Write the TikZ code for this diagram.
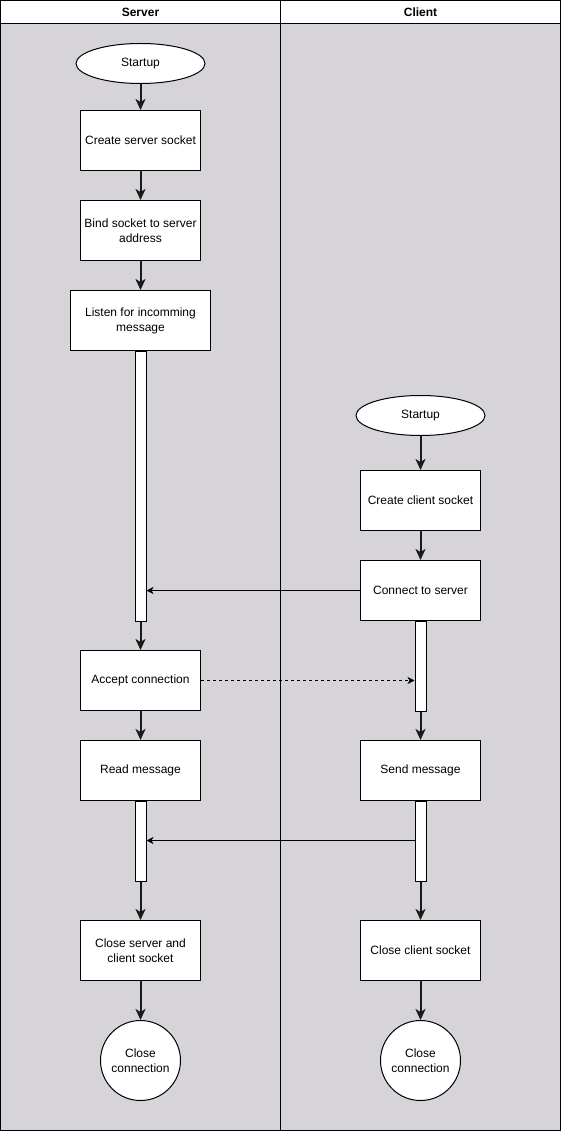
\documentclass[tikz,border=0pt]{standalone}
\usepackage{fontspec}
\setmainfont{Liberation Sans}
\usetikzlibrary{arrows.meta,shapes.geometric}
\definecolor{lanefill}{RGB}{214,212,216}
\begin{document}
\begin{tikzpicture}[x=1pt,y=-1pt,
  every node/.style={font=\fontsize{12}{15}\selectfont, inner sep=0pt},
  stepbox/.style={draw, fill=white, line width=1pt, minimum width=120pt, minimum height=60pt, align=center},
  widebox/.style={stepbox, minimum width=140pt},
  startnode/.style={ellipse, draw, fill=white, line width=1pt, minimum width=129pt, minimum height=40pt},
  endnode/.style={circle, draw, fill=white, line width=1pt, minimum size=80pt, align=center},
  bar/.style={draw, fill=white, line width=1pt, minimum width=11pt, anchor=north},
  flow/.style={line width=2pt, draw=black!90, -{Stealth[length=11pt,width=10pt,inset=3pt]}},
  msg/.style={line width=1pt, -{Stealth[length=7pt,width=7pt,inset=2pt]}},
  reply/.style={msg, dashed, dash pattern=on 3pt off 3pt}]
\useasboundingbox (0,0) rectangle (561,1131);
% lanes and header
\fill[lanefill] (0.5,23.5) rectangle (560.5,1130.5);
\fill[white] (0.5,0.5) rectangle (560.5,23.5);
\draw[line width=1pt] (0.5,0.5) rectangle (560.5,1130.5);
\draw[line width=1pt] (0.5,23.5) -- (560.5,23.5);
\draw[line width=1pt] (280.5,0.5) -- (280.5,1130.5);
\node[font=\fontsize{12}{15}\selectfont\bfseries] (hserver) at (140.5,12) {Server};
\node[font=\fontsize{12}{15}\selectfont\bfseries] (hclient) at (420.5,12) {Client};

% server lane
\node[startnode] (sstart) at (140.5,63.5) {Startup};
\node[stepbox] (screate) at (140.5,140.5) {Create server socket};
\node[stepbox] (sbind) at (140.5,230.5) {Bind socket to server\\address};
\node[widebox] (slisten) at (140.5,320.5) {Listen for incomming\\message};
\node[bar, minimum height=270pt] (sbar1) at (140.5,350.5) {};
\node[stepbox] (saccept) at (140.5,680.5) {Accept connection};
\node[stepbox] (sread) at (140.5,770.5) {Read message};
\node[bar, minimum height=80pt] (sbar2) at (140.5,800.5) {};
\node[stepbox] (sclose) at (140.5,950.5) {Close server and\\client socket};
\node[endnode] (send) at (140.5,1060.5) {Close\\connection};

% client lane
\node[startnode] (cstart) at (420.5,415.5) {Startup};
\node[stepbox] (ccreate) at (420.5,500.5) {Create client socket};
\node[stepbox] (cconnect) at (420.5,590.5) {Connect to server};
\node[bar, minimum height=90pt] (cbar1) at (420.5,620.5) {};
\node[stepbox] (csend) at (420.5,770.5) {Send message};
\node[bar, minimum height=80pt] (cbar2) at (420.5,800.5) {};
\node[stepbox] (cclose) at (420.5,950.5) {Close client socket};
\node[endnode] (cend) at (420.5,1060.5) {Close\\connection};

% control flow
\draw[flow] (sstart) -- (screate);
\draw[flow] (screate) -- (sbind);
\draw[flow] (sbind) -- (slisten);
\draw[flow] (sbar1.south) -- (saccept);
\draw[flow] (saccept) -- (sread);
\draw[flow] (sbar2.south) -- (sclose);
\draw[flow] (sclose) -- (send);
\draw[flow] (cstart) -- (ccreate);
\draw[flow] (ccreate) -- (cconnect);
\draw[flow] (cbar1.south) -- (csend);
\draw[flow] (cbar2.south) -- (cclose);
\draw[flow] (cclose) -- (cend);

% messages between the lanes
\draw[msg] (cconnect.west) -- (sbar1.east |- cconnect.west);
\draw[reply] (saccept.east) -- (cbar1.west |- saccept.east);
\draw[msg] (cbar2.west |- 0,840.5) -- (sbar2.east |- 0,840.5);
\end{tikzpicture}
\end{document}
